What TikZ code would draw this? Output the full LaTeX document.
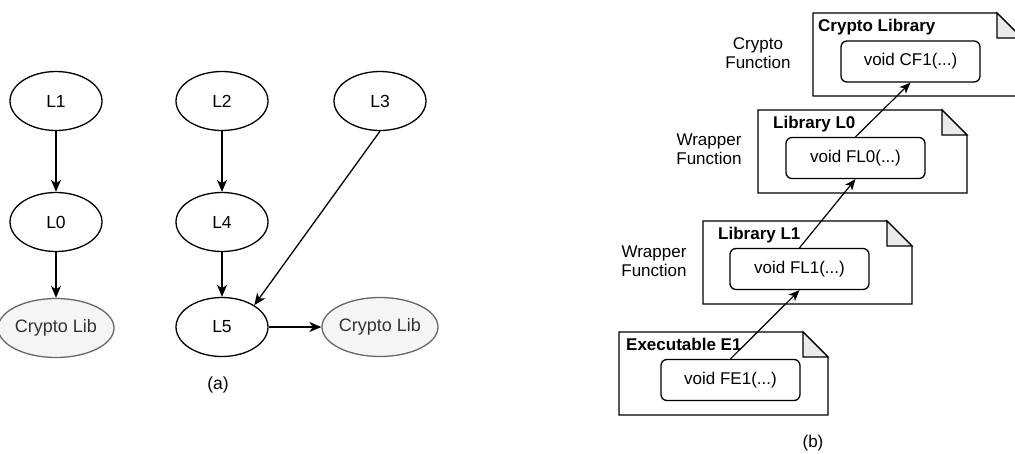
\documentclass[tikz,border=0pt]{standalone}
\usepackage{fontspec}
\setmainfont{Liberation Sans}
\usetikzlibrary{shapes.geometric,arrows.meta}
\definecolor{cfill}{HTML}{F5F5F5}
\definecolor{cstroke}{HTML}{666666}
\definecolor{ctext}{HTML}{333333}
\definecolor{foldfill}{HTML}{EBEBEB}
\tikzset{
  txt/.style={font=\fontsize{17}{19}\selectfont},
  txta/.style={font=\fontsize{17.5}{20}\selectfont},
  lib/.style={ellipse, draw, line width=1.3pt, minimum width=92pt, minimum height=59pt, inner sep=0pt, txta},
  cryp/.style={lib, fill=cfill, draw=cstroke, text=ctext, font=\fontsize{18}{20}\selectfont},
  arr/.style={line width=1.3pt, -{Stealth[length=12pt,width=10pt,inset=3.5pt]}},
  arrb/.style={line width=1.2pt, -{Stealth[length=11pt,width=9pt,inset=3pt]}},
  func/.style={rectangle, rounded corners=6pt, draw, line width=1.3pt, fill=white, minimum width=139pt, minimum height=41pt, inner sep=0pt, txt},
  ttl/.style={anchor=base west, inner sep=0pt, font=\fontsize{17}{19}\selectfont\bfseries},
  side/.style={align=center, inner sep=0pt, txt},
  docline/.style={line width=1.3pt, fill=white},
  foldline/.style={line width=1.3pt, fill=foldfill}
}
\newcommand\docshape[4]{%
  \draw[docline] (#1,#2) -- (#1+#3-25,#2) -- (#1+#3,#2+25) -- (#1+#3,#2+#4) -- (#1,#2+#4) -- cycle;
  \draw[foldline] (#1+#3-25,#2) -- (#1+#3-25,#2+25) -- (#1+#3,#2+25) -- cycle;
}
\begin{document}
\begin{tikzpicture}[x=1pt,y=-1pt]
\useasboundingbox (0,0) rectangle (1015,453);
\clip (0,0) rectangle (1015,453);
% (a)
\node[lib] (L1) at (56,101) {L1};
\node[lib] (L0) at (56,222) {L0};
\node[cryp] (CL1) at (56,328) {Crypto Lib};
\node[lib] (L2) at (222,101) {L2};
\node[lib] (L4) at (222,222) {L4};
\node[lib] (L5) at (222,327) {L5};
\node[lib] (L3) at (380,101) {L3};
\node[cryp] (CL2) at (380,327) {Crypto Lib};
\node[txta] (la) at (218,385) {(a)};
\draw[arr] (L1) -- (L0);
\draw[arr] (L0) -- (CL1);
\draw[arr] (L2) -- (L4);
\draw[arr] (L4) -- (L5);
\draw[arr] (L3.south) -- (L5.34);
\draw[arr] (L5.east) -- (CL2.west);
% (b)
\docshape{813}{13}{209}{83}
\docshape{758}{110}{209}{83}
\docshape{703}{221}{209}{83}
\docshape{619}{332}{209}{83}
\node[ttl] (tCL) at (818,31) {Crypto Library};
\node[ttl] (tL0) at (773,128) {Library L0};
\node[ttl] (tL1) at (718,239) {Library L1};
\node[ttl] (tE1) at (626,350) {Executable E1};
\node[func] (CF1) at (910.5,61.5) {void CF1(...)};
\node[func] (FL0) at (855.5,158) {void FL0(...)};
\node[func] (FL1) at (799.5,269) {void FL1(...)};
\node[func] (FE1) at (730.5,380) {void FE1(...)};
\node[side] (s1) at (758,53) {Crypto\\Function};
\node[side] (s2) at (709,149) {Wrapper\\Function};
\node[side] (s3) at (654,261) {Wrapper\\Function};
\node[txt] (lb) at (813,443) {(b)};
\draw[arrb] (FE1.north) -- (FL1.south);
\draw[arrb] (FL1.north) -- (FL0.south);
\draw[arrb] (FL0.north) -- (CF1.south);
\end{tikzpicture}
\end{document}
